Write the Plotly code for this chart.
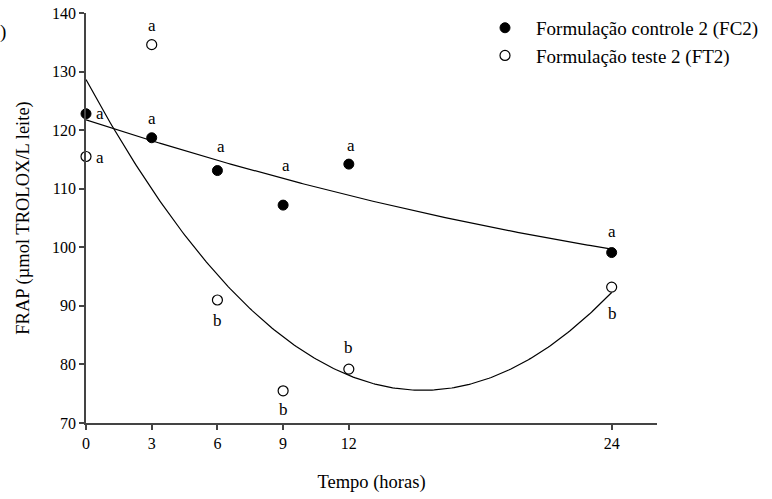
import numpy as np
import plotly.graph_objects as go

# ---- data ----
tempo = [0, 3, 6, 9, 12, 24]
fc2 = [122.8, 118.7, 113.1, 107.2, 114.2, 99.1]
ft2 = [115.5, 134.6, 91.0, 75.5, 79.2, 93.2]
fc2_letters = ["a", "a", "a", "a", "a", "a"]
ft2_letters = ["a", "a", "b", "b", "b", "b"]
x_ticks = [0, 3, 6, 9, 12, 24]
y_ticks = [70, 80, 90, 100, 110, 120, 130, 140]
name_fc2 = "Formulação controle 2 (FC2)"
name_ft2 = "Formulação teste 2 (FT2)"

# ---- label offsets (px) ----
fc2_off = [(14, 0), (0, 19), (4, 24), (3, 40), (2, 19), (0, 21)]
ft2_off = [(14, -1), (0, 19), (0, -20), (0, -19), (0, 22), (1, -26)]

FONT = "Liberation Serif"

# quadratic regressions
xs = np.linspace(0, 24, 241)
c_fc2 = np.polyfit(tempo, fc2, 2)
c_ft2 = np.polyfit(tempo, ft2, 2)

fig = go.Figure()
fig.add_trace(go.Scatter(x=xs, y=np.polyval(c_fc2, xs), mode="lines",
                         line=dict(color="black", width=1.2), showlegend=False,
                         hoverinfo="skip"))
fig.add_trace(go.Scatter(x=xs, y=np.polyval(c_ft2, xs), mode="lines",
                         line=dict(color="black", width=1.2), showlegend=False,
                         hoverinfo="skip"))
fig.add_trace(go.Scatter(x=tempo, y=fc2, mode="markers", name=name_fc2,
                         cliponaxis=False,
                         marker=dict(symbol="circle", size=10, color="black",
                                     line=dict(color="black", width=1))))
fig.add_trace(go.Scatter(x=tempo, y=ft2, mode="markers", name=name_ft2,
                         cliponaxis=False,
                         marker=dict(symbol="circle", size=10, color="white",
                                     line=dict(color="black", width=1.2))))

for xv, yv, t, (dx, dy) in zip(tempo, fc2, fc2_letters, fc2_off):
    fig.add_annotation(x=xv, y=yv, text=t, showarrow=False, xshift=dx, yshift=dy,
                       font=dict(family=FONT, size=17, color="black"))
for xv, yv, t, (dx, dy) in zip(tempo, ft2, ft2_letters, ft2_off):
    fig.add_annotation(x=xv, y=yv, text=t, showarrow=False, xshift=dx, yshift=dy,
                       font=dict(family=FONT, size=17, color="black"))

# stray cropped panel label
fig.add_annotation(x=(3 - 86) / 571, y=(423 - 32) / 410, xref="paper", yref="paper",
                   text=")", showarrow=False, xanchor="center", yanchor="middle",
                   font=dict(family=FONT, size=19, color="black"))

axis_common = dict(showgrid=False, zeroline=False, showline=True, linecolor="#444",
                   linewidth=1.5, ticks="outside", ticklen=5, tickcolor="#444",
                   tickwidth=1.5, tickfont=dict(family=FONT, size=16, color="black"))

fig.update_layout(
    width=772, height=499,
    margin=dict(l=86, r=115, t=13, b=76, autoexpand=False),
    paper_bgcolor="white", plot_bgcolor="white",
    font=dict(family=FONT, color="black"),
    xaxis=dict(range=[0, 26.07], tickvals=x_ticks, **axis_common,
               title=dict(text="Tempo (horas)", font=dict(family=FONT, size=18.5),
                          standoff=24)),
    yaxis=dict(range=[70, 140], tickvals=y_ticks, **axis_common,
               title=dict(text="FRAP (µmol TROLOX/L leite)",
                          font=dict(family=FONT, size=18.5), standoff=18)),
    legend=dict(x=(474 - 86) / 571, y=1.01, xanchor="left", yanchor="top",
                bgcolor="rgba(0,0,0,0)", itemwidth=52,
                font=dict(family=FONT, size=19, color="black"),
                tracegroupgap=0),
    showlegend=True,
)

fig.write_html("out.html")
